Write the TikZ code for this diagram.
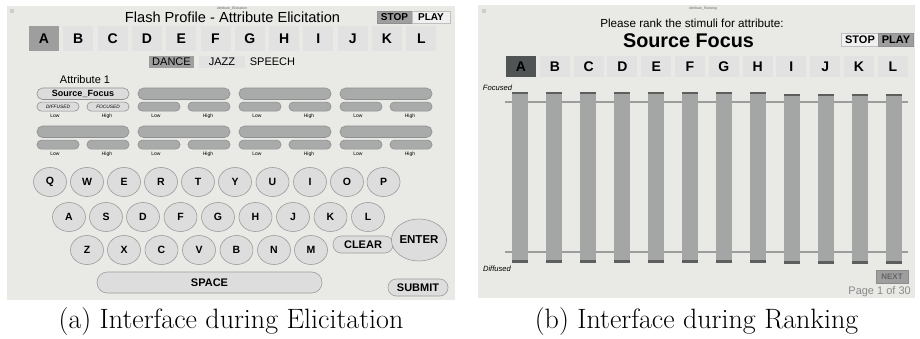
\documentclass[tikz,border=0pt]{standalone}
\usepackage{fontspec}
\usepackage{tikz}
\usetikzlibrary{shapes.geometric, positioning}
\newfontfamily\uifont{Liberation Sans}
\definecolor{panel-bg}{HTML}{E9E9E6}
\definecolor{icon-grey}{HTML}{CDCDCD}
\definecolor{tab-off}{HTML}{E2E2E2}
\definecolor{tab-on}{HTML}{9E9E9E}
\definecolor{tab-dark}{HTML}{505455}
\definecolor{pill-grey}{HTML}{A9ABAA}
\definecolor{pill-light}{HTML}{DCDCDC}
\definecolor{pill-edge}{HTML}{8E908F}
\definecolor{key-fill}{HTML}{DDDDDD}
\definecolor{key-edge}{HTML}{9C9C9C}
\definecolor{bar-grey}{HTML}{A3A6A5}
\definecolor{bar-cap}{HTML}{5C5F5E}
\definecolor{rule-grey}{HTML}{9C9D9C}
\definecolor{page-grey}{HTML}{8A8A8A}
\newcommand{\uisz}[1]{\uifont\fontsize{#1}{#1}\selectfont}
\newcommand{\tabkey}[5][]{%  \tabkey[opts]{name}{x}{y}{letter}
  \node[tab, #1] (#2) at (#3,#4) {#5};}
\newcommand{\kbkey}[3]{%  \kbkey{x}{y}{letter}
  \node[kbkey] (kb-#3) at (#1,#2) {#3};}
\newcommand{\attrslot}[7][pill-grey]{%  \attrslot[fill]{name}{x0}{y0}{title}{low}{high}
  \node[pill, fill=#1, minimum width=92pt, minimum height=11.5pt,
        font=\uisz{9}\bfseries] (#2) at (#3+46,#4+5.75) {#5};
  \node[pill, fill=#1, minimum width=42pt, minimum height=9pt, rounded corners=4.3pt,
        font=\uisz{4.8}\itshape] (#2-lo) at (#3+21,#4+18.6) {#6};
  \node[pill, fill=#1, minimum width=42pt, minimum height=9pt, rounded corners=4.3pt,
        font=\uisz{4.8}\itshape] (#2-hi) at (#3+71,#4+18.6) {#7};
  \node[tick] (#2-lotxt) at (#3+18,#4+27.8) {Low};
  \node[tick] (#2-hitxt) at (#3+70,#4+27.8) {High};}
\newcommand{\rankbar}[3]{%  \rankbar{x}{top}{bottom}
  \fill[bar-grey] (#1-8,#2) rectangle (#1+8,#3);
  \fill[bar-cap] (#1-8,#2) rectangle (#1+8,#2+2);
  \fill[bar-cap] (#1-8,#3-3) rectangle (#1+8,#3);}

\begin{document}
\begin{tikzpicture}[x=1pt, y=-1pt,
    tab/.style={fill=tab-off, minimum width=30pt, minimum height=25pt,
                inner sep=0pt, font=\uisz{14}\bfseries},
    btn/.style={minimum height=12pt, inner sep=0pt, line width=0.8pt,
                font=\uisz{10}\bfseries},
    cat/.style={minimum height=12pt, inner sep=0pt, font=\uisz{11}},
    pill/.style={draw=pill-edge, line width=0.6pt, rounded corners=5.5pt, inner sep=0pt},
    tick/.style={font=\uisz{5}, inner sep=0pt},
    kbkey/.style={ellipse, draw=key-edge, fill=key-fill, line width=0.6pt,
                  minimum width=33pt, minimum height=29pt, inner sep=0pt,
                  font=\uisz{10.5}\bfseries},
    kbpill/.style={draw=key-edge, fill=key-fill, line width=0.6pt, inner sep=0pt,
                   font=\uisz{11}\bfseries},
    caption/.style={font=\fontsize{28}{32}\selectfont, inner sep=0pt}]
  \useasboundingbox (0,0) rectangle (920,338);
  \fill[white] (0,0) rectangle (920,338);

  % ── elicitation window ──
  \fill[panel-bg] (7,6) rectangle (455,300);
  \fill[icon-grey] (10,9) rectangle +(4,4);
  \node[font=\uisz{3.5}, text=black!60, inner sep=0pt] (elic-win) at (232,8.5)
        {Attribute\_Elicitation};
  \node[font=\uisz{14.6}, inner sep=0pt] (elic-title) at (232.5,17)
        {Flash Profile - Attribute Elicitation};
  \node[btn, fill=tab-on, draw=pill-edge, minimum width=35pt] (elic-stop) at (394.5,17) {STOP};
  \node[btn, fill=white!94!black, draw=black!25, minimum width=38pt] (elic-play) at (431,17) {PLAY};

  % stimulus tabs
  \tabkey[fill=tab-on]{ea}{44}{38.5}{A}\tabkey{eb}{78.3}{38.5}{B}
  \tabkey{ec}{112.6}{38.5}{C}\tabkey{ed}{146.9}{38.5}{D}
  \tabkey{ee}{181.2}{38.5}{E}\tabkey{ef}{215.5}{38.5}{F}
  \tabkey{eg}{249.8}{38.5}{G}\tabkey{eh}{284.1}{38.5}{H}
  \tabkey{ei}{318.4}{38.5}{I}\tabkey{ej}{352.7}{38.5}{J}
  \tabkey{ek}{387}{38.5}{K}\tabkey{el}{421.3}{38.5}{L}

  % genre switch
  \node[cat, fill=tab-on, minimum width=45pt] (dance) at (171.5,62) {DANCE};
  \node[cat, fill=tab-off, minimum width=46pt] (jazz) at (222,62) {JAZZ};
  \node[cat] (speech) at (272.5,62) {SPEECH};

  % attribute slots, 4 x 2
  \node[font=\uisz{11}, inner sep=0pt] (attr-one) at (85,80) {Attribute 1};
  \attrslot[pill-light]{slot1}{37}{88}{Source\_Focus}{DIFFUSED}{FOCUSED}
  \attrslot{slot2}{138}{88}{}{}{}
  \attrslot{slot3}{239}{88}{}{}{}
  \attrslot{slot4}{340}{88}{}{}{}
  \attrslot{slot5}{37}{126}{}{}{}
  \attrslot{slot6}{138}{126}{}{}{}
  \attrslot{slot7}{239}{126}{}{}{}
  \attrslot{slot8}{340}{126}{}{}{}

  % on-screen keyboard
  \kbkey{50}{182}{Q}\kbkey{87}{182}{W}\kbkey{124}{182}{E}\kbkey{161}{182}{R}
  \kbkey{198}{182}{T}\kbkey{235}{182}{Y}\kbkey{272.5}{182}{U}\kbkey{310}{182}{I}
  \kbkey{347}{182}{O}\kbkey{383.5}{182}{P}
  \kbkey{69}{217}{A}\kbkey{106}{217}{S}\kbkey{143}{217}{D}\kbkey{180.5}{217}{F}
  \kbkey{218}{217}{G}\kbkey{255.5}{217}{H}\kbkey{293}{217}{J}\kbkey{330.5}{217}{K}
  \kbkey{368}{217}{L}
  \kbkey{87}{250}{Z}\kbkey{124}{250}{X}\kbkey{161.5}{250}{C}\kbkey{199}{250}{V}
  \kbkey{236.5}{250}{B}\kbkey{274}{250}{N}\kbkey{311}{250}{M}
  \node[kbpill, minimum width=60pt, minimum height=17pt, rounded corners=8.3pt]
        (kb-clear) at (363,244.5) {CLEAR};
  \node[kbkey, minimum width=48pt, minimum height=42pt, font=\uisz{11.5}\bfseries]
        (kb-enter) at (419,240) {ENTER};
  \node[kbpill, minimum width=225pt, minimum height=21pt, rounded corners=10.3pt]
        (kb-space) at (209.5,282.5) {SPACE};
  \node[kbpill, minimum width=60pt, minimum height=17pt, rounded corners=8.3pt]
        (kb-submit) at (418,287.5) {SUBMIT};

  % ── ranking window ──
  \fill[panel-bg] (478,5) rectangle (915,298);
  \fill[icon-grey] (482,9) rectangle +(4,4);
  \node[font=\uisz{3.5}, text=black!60, inner sep=0pt] (rank-win) at (703,8.5)
        {Attribute\_Ranking};
  \node[font=\uisz{11.7}, inner sep=0pt] (rank-prompt) at (692,23)
        {Please rank the stimuli for attribute:};
  \node[font=\uisz{19.8}\bfseries, inner sep=0pt] (rank-attr) at (688.5,41) {Source Focus};
  \node[btn, fill=white!94!black, draw=black!25, minimum width=38pt, minimum height=13pt,
        font=\uisz{11}\bfseries] (rank-stop) at (860,39.5) {STOP};
  \node[btn, fill=tab-on, draw=pill-edge, minimum width=35pt, minimum height=13pt,
        font=\uisz{11}\bfseries] (rank-play) at (896,39.5) {PLAY};

  \tabkey[fill=tab-dark, minimum height=21pt]{ra}{521}{66.5}{A}
  \tabkey[minimum height=21pt]{rb}{554.8}{66.5}{B}\tabkey[minimum height=21pt]{rc}{588.6}{66.5}{C}
  \tabkey[minimum height=21pt]{rd}{622.4}{66.5}{D}\tabkey[minimum height=21pt]{re}{656.2}{66.5}{E}
  \tabkey[minimum height=21pt]{rf}{690}{66.5}{F}\tabkey[minimum height=21pt]{rg}{723.8}{66.5}{G}
  \tabkey[minimum height=21pt]{rh}{757.6}{66.5}{H}\tabkey[minimum height=21pt]{ri}{791.4}{66.5}{I}
  \tabkey[minimum height=21pt]{rj}{825.2}{66.5}{J}\tabkey[minimum height=21pt]{rk}{859}{66.5}{K}
  \tabkey[minimum height=21pt]{rl}{892.8}{66.5}{L}

  % scale rails, then the sliders over them
  \draw[rule-grey, line width=1.3pt] (505,102) -- (908,102);
  \draw[rule-grey, line width=1.3pt] (505,252) -- (908,252);
  \rankbar{519.5}{92}{263}\rankbar{553.5}{92}{263}\rankbar{587.5}{92}{263}
  \rankbar{621.5}{92}{263}\rankbar{655.5}{92}{263}\rankbar{689.5}{92}{263}
  \rankbar{723.5}{92}{263}\rankbar{757.5}{92}{263}
  \rankbar{791.5}{93.5}{264}\rankbar{825.5}{93.5}{264}
  \rankbar{859.5}{93.5}{264}\rankbar{893.5}{93.5}{264}
  \node[font=\uisz{7.6}\itshape, inner sep=0pt] (lbl-focused) at (497.5,88) {Focused};
  \node[font=\uisz{7.6}\itshape, inner sep=0pt] (lbl-diffused) at (497,269) {Diffused};

  \node[btn, fill=tab-on, draw=black!45, text=black!60, minimum width=32pt, minimum height=13pt,
        font=\uisz{8}\bfseries] (rank-next) at (892,276.5) {NEXT};
  \node[font=\uisz{11}, text=page-grey, anchor=east, inner sep=0pt] (rank-page) at (911,292)
        {Page 1 of 30};

  % ── sub-captions ──
  \node[caption] (cap-a) at (231,322) {(a) Interface during Elicitation};
  \node[caption] (cap-b) at (696.5,322) {(b) Interface during Ranking};
\end{tikzpicture}
\end{document}
